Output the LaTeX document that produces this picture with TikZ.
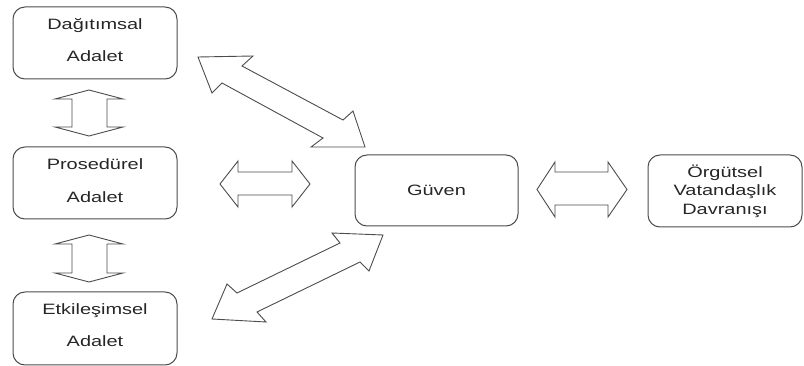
\documentclass[tikz,border=0pt]{standalone}
\usepackage{fontspec}
\setmainfont{Liberation Sans}[FakeStretch=1.33]
\definecolor{linegray}{gray}{0.3}
\begin{document}
\begin{tikzpicture}[x=1pt,y=-1pt,
  box/.style={draw=linegray, line width=1pt, rounded corners=12pt,
    minimum width=164pt, minimum height=72pt, inner sep=0pt, align=center,
    font=\fontsize{15}{18.5}\selectfont, text=black!85},
  txt/.style={inner sep=0pt, align=center,
    font=\fontsize{15}{18.5}\selectfont, text=black!85},
  blockarrow/.style={draw=linegray, line width=0.9pt, fill=white, line join=miter}]
\useasboundingbox (0,0) rectangle (804,366);

% boxes
\node[box] (dag) at (95,43) {};
\node[txt] (dagt) at (95,40) {Dağıtımsal\\[14pt]Adalet};
\node[box] (pro) at (95,183) {};
\node[txt] (prot) at (95,180.5) {Prosedürel\\[14pt]Adalet};
\node[box, minimum height=73pt] (etk) at (95,328.5) {};
\node[txt] (etkt) at (95,325) {Etkileşimsel\\[14pt]Adalet};
\node[box, minimum width=163pt, minimum height=71pt] (guv) at (436.5,190.5) {Güven};
\node[box, minimum width=154pt] (ovd) at (725,191) {Örgütsel\\Vatandaşlık\\Davranışı};

% vertical double arrows
\draw[blockarrow] (89,90) -- (123,99) -- (107,99) -- (107,127) -- (123,127)
  -- (89,136) -- (55,127) -- (72,127) -- (72,99) -- (55,99) -- cycle;
\draw[blockarrow] (89,235) -- (123,244) -- (107,244) -- (107,273) -- (123,273)
  -- (89,282) -- (55,273) -- (72,273) -- (72,244) -- (55,244) -- cycle;

% horizontal double arrows
\draw[blockarrow] (220,184) -- (238,161) -- (238,172) -- (292,172) -- (292,161)
  -- (310,184) -- (292,207) -- (292,195) -- (238,195) -- (238,207) -- cycle;
\draw[blockarrow] (537,189.5) -- (555,162) -- (555,172) -- (608,172) -- (608,162)
  -- (627,189.5) -- (608,217) -- (608,205) -- (555,205) -- (555,217) -- cycle;

% diagonal double arrows
\draw[blockarrow] (198,57) -- (253,56) -- (242,66) -- (343,120) -- (353,111)
  -- (365,147) -- (311,147) -- (323,138) -- (222,83) -- (212,93) -- cycle;
\draw[blockarrow] (212,319) -- (227,284) -- (237,293) -- (340,243) -- (332,233)
  -- (383,235) -- (369,271) -- (360,262) -- (257,312) -- (266,322) -- cycle;
\end{tikzpicture}
\end{document}
